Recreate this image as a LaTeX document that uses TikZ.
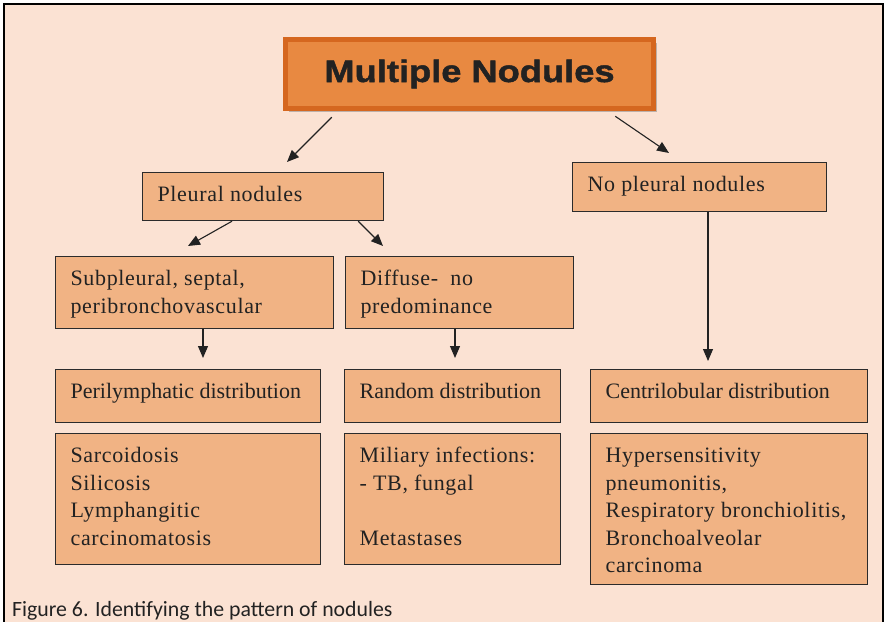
\documentclass[tikz,border=0pt]{standalone}
\usepackage{fontspec}
\setmainfont{Liberation Serif}
\newfontfamily\trackfont{Liberation Serif}[LetterSpace=3]
\newfontfamily\titlefont{Liberation Sans}[FakeStretch=1.17, BoldFeatures={FakeBold=1.5}]
\newfontfamily\capfont{Carlito}
\usetikzlibrary{arrows.meta, shadows}
\definecolor{pagebg}{HTML}{FBE2D3}
\definecolor{boxfill}{HTML}{F1B384}
\definecolor{titlefill}{HTML}{E88941}
\definecolor{titleline}{HTML}{D5671F}
\definecolor{boxline}{HTML}{2B2B2B}
\definecolor{inktext}{HTML}{222222}
% text block set from the top of its box: width, height, lines
\newcommand{\boxtext}[3]{\parbox[t][#2][t]{#1}{\raggedright\rule{0pt}{28.8pt}#3}}
\tikzset{
    box/.style={rectangle, draw=boxline, line width=1.2pt, fill=boxfill, anchor=north west, inner xsep=15pt, inner ysep=0pt, text=inktext, font=\fontsize{22}{27.6}\selectfont},
    widebox/.style={box, font=\trackfont\fontsize{22}{27.6}\selectfont},
    titlebox/.style={rectangle, draw=titleline, line width=5.5pt, fill=titlefill, minimum width=368pt, minimum height=69pt, text=inktext, font=\titlefont\bfseries\fontsize{31}{34}\selectfont, drop shadow={shadow xshift=3pt, shadow yshift=-3pt, fill=black!50, opacity=0.5}},
    arr/.style={-{Triangle[length=12pt, width=10pt]}, line width=1.1pt, draw=inktext},
}

\begin{document}
\begin{tikzpicture}[x=1pt, y=1pt]
\useasboundingbox (0,0) rectangle (885,-621);
\fill[white] (0,0) rectangle (885,-621);

% ── Page frame ──
\draw[fill=pagebg, line width=1.6pt] (4,-4) rectangle (883,-660);

% ── Title ──
\node[titlebox] (title) at (469.5,-74) {Multiple Nodules};

% ── Second level ──
\node[widebox] (pleural) at (142,-172) {\boxtext{211pt}{48pt}{Pleural nodules}};
\node[widebox] (nopleural) at (572,-162) {\boxtext{224pt}{49pt}{No pleural nodules}};

% ── Third level ──
\node[widebox] (subpleural) at (55,-256) {\boxtext{248pt}{72pt}{Subpleural, septal,\\peribronchovascular}};
\node[widebox] (diffuse) at (345,-256) {\boxtext{198pt}{72pt}{Diffuse-\ \ no\\predominance}};

% ── Distributions ──
\node[box] (perilymph) at (55,-369) {\boxtext{235pt}{53pt}{Perilymphatic distribution}};
\node[box] (random) at (344,-369) {\boxtext{186pt}{53pt}{Random distribution}};
\node[box] (centri) at (590,-369) {\boxtext{247pt}{53pt}{Centrilobular distribution}};

% ── Diseases ──
\node[widebox] (sarcoid) at (55,-433) {\boxtext{235pt}{131pt}{Sarcoidosis\\Silicosis\\Lymphangitic\\carcinomatosis}};
\node[widebox] (miliary) at (344,-433) {\boxtext{186pt}{131pt}{Miliary infections:\\- TB, fungal\\[27.6pt]Metastases}};
\node[widebox] (hyper) at (590,-433) {\boxtext{247pt}{151pt}{Hypersensitivity\\pneumonitis,\\Respiratory bronchiolitis,\\Bronchoalveolar\\carcinoma}};

% ── Arrows ──
\draw[arr] ([xshift=49pt, yshift=-6pt]title.south west) -- ([xshift=145pt, yshift=10pt]pleural.north west);
\draw[arr] ([xshift=-41pt, yshift=-5pt]title.south east) -- ([xshift=97pt, yshift=9pt]nopleural.north west);
\draw[arr] ([xshift=90pt]pleural.south west) -- ([xshift=133pt, yshift=10pt]subpleural.north west);
\draw[arr] ([xshift=-26pt]pleural.south east) -- ([xshift=38pt, yshift=10pt]diffuse.north west);
\draw[arr] ([xshift=148pt]subpleural.south west) -- ([xshift=148pt, yshift=11pt]perilymph.north west);
\draw[arr] ([xshift=110pt]diffuse.south west) -- ([xshift=111pt, yshift=11pt]random.north west);
\draw[arr] ([xshift=136pt]nopleural.south west) -- ([xshift=118pt, yshift=8pt]centri.north west);

% ── Caption ──
\node[anchor=base west, inner sep=0pt, text=inktext, font=\capfont\fontsize{21.8}{24}\selectfont] (caption) at (12,-616) {Figure 6. Identifying the pattern of nodules};

\end{tikzpicture}
\end{document}
